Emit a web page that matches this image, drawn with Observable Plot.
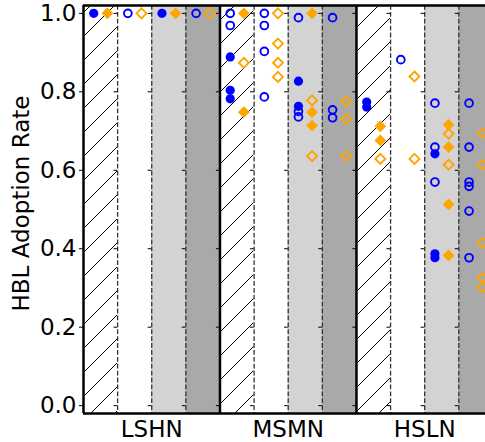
<!DOCTYPE html>
<html>
<head>
<meta charset="utf-8">
<script src="https://cdn.jsdelivr.net/npm/d3@7"></script>
<script src="https://cdn.jsdelivr.net/npm/@observablehq/plot@0.6"></script>
<style>
  html, body { margin: 0; padding: 0; background: white; }
  svg { display: block; }
</style>
</head>
<body>
<div id="chart"></div>
<script>
// ---- Data ----
const panels = ["LSHN", "MSMN", "HSLN"];
const columnFills = ["hatch", "white", "#d3d3d3", "#a9a9a9"];
const yTickValues = [0, 0.2, 0.4, 0.6, 0.8, 1.0];

// [column within panel, adoption rate]
const LSHN_circleFilled = [[0, 1.0], [2, 1.0]];
const LSHN_circleOpen = [[1, 1.0], [3, 1.0]];
const LSHN_diamondFilled = [[0, 1.0], [2, 1.0]];
const LSHN_diamondOpen = [[1, 1.0], [3, 1.0]];

const MSMN_circleFilled = [[0, 0.889], [0, 0.804], [0, 0.782], [2, 0.827], [2, 0.763]];
const MSMN_circleOpen = [[0, 1.0], [0, 0.969], [1, 1.0], [1, 0.969], [1, 0.903], [1, 0.787],
  [2, 0.989], [2, 0.750], [2, 0.736], [3, 0.989], [3, 0.754], [3, 0.734]];
const MSMN_diamondFilled = [[0, 1.0], [0, 0.748], [2, 1.0], [2, 0.748], [2, 0.714]];
const MSMN_diamondOpen = [[0, 0.874], [1, 1.0], [1, 0.923], [1, 0.874], [1, 0.838],
  [2, 0.778], [2, 0.636], [3, 0.776], [3, 0.730], [3, 0.636]];

const HSLN_circleFilled = [[0, 0.774], [0, 0.761], [2, 0.642], [2, 0.387], [2, 0.377]];
const HSLN_circleOpen = [[1, 0.882], [2, 0.771], [2, 0.659], [2, 0.570],
  [3, 0.771], [3, 0.659], [3, 0.570], [3, 0.559], [3, 0.496], [3, 0.377]];
const HSLN_diamondFilled = [[0, 0.712], [0, 0.676], [2, 0.716], [2, 0.659], [2, 0.513], [2, 0.383]];
const HSLN_diamondOpen = [[0, 0.629], [1, 0.839], [1, 0.629], [2, 0.693], [2, 0.614],
  [3, 0.695], [3, 0.614], [3, 0.415], [3, 0.326], [3, 0.302]];

// ---- Build tables ----
const toRows = (panelIndex, arr, offset) =>
  arr.map(([c, v]) => ({x: panelIndex * 4 + c + offset, v}));
const CIRC = 0.3, DIAM = 0.7;
const circleFilled = [LSHN_circleFilled, MSMN_circleFilled, HSLN_circleFilled].flatMap((a, i) => toRows(i, a, CIRC));
const circleOpen = [LSHN_circleOpen, MSMN_circleOpen, HSLN_circleOpen].flatMap((a, i) => toRows(i, a, CIRC));
const diamondFilled = [LSHN_diamondFilled, MSMN_diamondFilled, HSLN_diamondFilled].flatMap((a, i) => toRows(i, a, DIAM));
const diamondOpen = [LSHN_diamondOpen, MSMN_diamondOpen, HSLN_diamondOpen].flatMap((a, i) => toRows(i, a, DIAM));

const columns = panels.flatMap((p, i) => columnFills.map((f, j) => ({x1: i * 4 + j, x2: i * 4 + j + 1, f})));
const dashedDividers = panels.flatMap((p, i) => [1, 2, 3].map(j => i * 4 + j));
const panelBorders = panels.map((p, i) => i * 4);
const dividerTicks = d3.range(1, 12).flatMap(x => yTickValues.map(y => ({x, y})));

const width = 485, height = 442;
const marginLeft = 83, marginRight = 0, marginTop = 5, marginBottom = 29;
const colPx = 34.12;
const xMax = (width - marginLeft - marginRight) / colPx;
const tickLen = 3.6 / colPx;

const plot = Plot.plot({
  width, height, marginLeft, marginRight, marginTop, marginBottom,
  style: {fontFamily: "DejaVu Sans", fontSize: "23px", color: "black", background: "white"},
  x: {domain: [0, xMax], axis: null},
  y: {domain: [-0.02, 1.02], axis: null},
  marks: [
    Plot.rect(columns.filter(d => d.f === "hatch"), {x1: "x1", x2: "x2", fill: "white"}),
    Plot.rect(columns.filter(d => d.f === "hatch"), {x1: "x1", x2: "x2", fill: "url(#hatch)"}),
    Plot.rect(columns.filter(d => d.f === "white"), {x1: "x1", x2: "x2", fill: "white"}),
    Plot.rect(columns.filter(d => d.f === "#d3d3d3"), {x1: "x1", x2: "x2", fill: "#d3d3d3"}),
    Plot.rect(columns.filter(d => d.f === "#a9a9a9"), {x1: "x1", x2: "x2", fill: "#a9a9a9"}),
    Plot.ruleX(dashedDividers, {stroke: "#333", strokeWidth: 1.3, strokeDasharray: "4.8,2.1"}),
    Plot.ruleY(dividerTicks, {y: "y", x1: d => d.x - tickLen, x2: d => d.x, stroke: "black", strokeWidth: 1}),
    Plot.axisY({ticks: yTickValues, tickFormat: d3.format(".1f"), tickSize: 4, tickPadding: 3,
      fontSize: 23, label: null}),
    Plot.axisX({ticks: panels.map((p, i) => i * 4 + 2), tickFormat: (d) => panels[(d - 2) / 4],
      tickSize: 0, tickPadding: 7, fontSize: 23, label: null}),
    Plot.text(["HBL Adoption Rate"], {frameAnchor: "left", rotate: -90, dx: -55, dy: -6,
      fontSize: 23, textAnchor: "middle", lineAnchor: "bottom", fill: "black"}),
    Plot.dot(circleFilled, {x: "x", y: "v", r: 4.6, fill: "blue", stroke: "none"}),
    Plot.dot(circleOpen, {x: "x", y: "v", r: 3.9, fill: "none", stroke: "blue", strokeWidth: 1.9}),
    Plot.dot(diamondFilled, {x: "x", y: "v", r: 5.3, symbol: "diamond2", fill: "orange", stroke: "none"}),
    Plot.dot(diamondOpen, {x: "x", y: "v", r: 4.5, symbol: "diamond2", fill: "none", stroke: "orange", strokeWidth: 1.9}),
    Plot.ruleX(panelBorders, {stroke: "black", strokeWidth: 2.5}),
    Plot.ruleY([-0.02, 1.02], {stroke: "black", strokeWidth: 2.5})
  ]
});

// hatch pattern definition
const ns = "http://www.w3.org/2000/svg";
const defs = document.createElementNS(ns, "defs");
defs.innerHTML = `<pattern id="hatch" patternUnits="userSpaceOnUse" width="24" height="24">
  <path d="M0,24 L24,0 M-6,6 L6,-6 M18,30 L30,18" stroke="black" stroke-width="1" fill="none"/>
</pattern>`;
plot.insertBefore(defs, plot.firstChild);

document.getElementById("chart").appendChild(plot);
</script>
</body>
</html>
